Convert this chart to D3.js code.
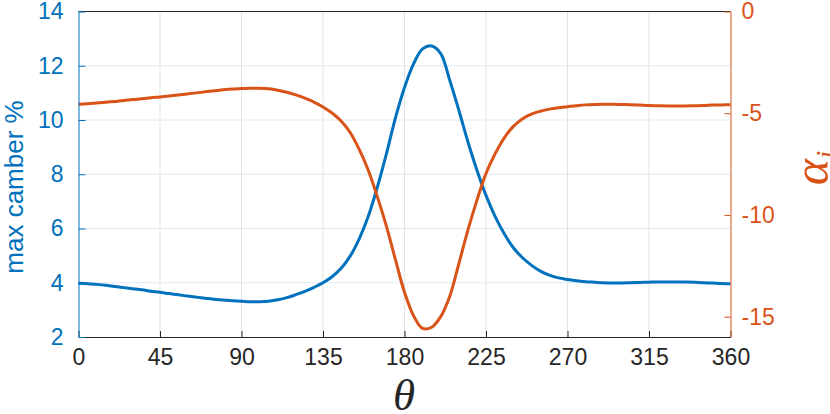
<!DOCTYPE html>
<html><head><meta charset="utf-8">
<script src="https://cdn.jsdelivr.net/npm/d3@7"></script>
<style>body{margin:0;background:#fff} svg{display:block}</style>
</head><body>
<script>
const theta = [0,5,10,15,20,25,30,35,40,45,50,55,60,65,70,75,80,85,90,95,100,105,110,115,120,125,130,135,140,145,150,155,160,165,170,175,180,185,190,195,200,205,210,215,220,225,230,235,240,245,250,255,260,265,270,275,280,285,290,295,300,305,310,315,320,325,330,335,340,345,350,355,360];
const camber = [3.98,3.96,3.94,3.91,3.86,3.82,3.78,3.74,3.69,3.65,3.60,3.56,3.51,3.47,3.43,3.39,3.36,3.34,3.32,3.30,3.30,3.32,3.37,3.45,3.56,3.68,3.83,4.00,4.22,4.53,4.98,5.62,6.45,7.52,8.75,10.08,11.20,12.07,12.62,12.73,12.45,11.46,10.36,9.20,8.15,7.22,6.45,5.82,5.30,4.93,4.65,4.43,4.28,4.18,4.12,4.07,4.04,4.02,4.00,3.99,3.99,4.00,4.01,4.02,4.03,4.03,4.03,4.03,4.02,4.00,3.99,3.97,3.96];
const alphaI = [-4.56,-4.53,-4.50,-4.46,-4.42,-4.38,-4.33,-4.29,-4.24,-4.20,-4.15,-4.10,-4.05,-4.00,-3.95,-3.90,-3.85,-3.81,-3.79,-3.77,-3.77,-3.80,-3.87,-3.97,-4.10,-4.26,-4.45,-4.69,-4.99,-5.38,-5.95,-6.78,-7.80,-9.10,-10.55,-12.20,-13.80,-14.95,-15.58,-15.52,-15.00,-14.00,-12.40,-10.75,-9.27,-7.96,-7.00,-6.22,-5.66,-5.28,-5.04,-4.90,-4.80,-4.73,-4.68,-4.63,-4.59,-4.57,-4.56,-4.56,-4.57,-4.58,-4.60,-4.62,-4.63,-4.64,-4.64,-4.64,-4.63,-4.62,-4.60,-4.59,-4.58];
const xTicks = [0,45,90,135,180,225,270,315,360];
const yLeftTicks = [2,4,6,8,10,12,14];
const yRightTicks = [0,-5,-10,-15];

const W = 830, H = 414;
const L = 78.5, R = 730.5, T = 11.5, B = 337;
const blue = "#0072BD", orange = "#D95319", dark = "#262626";
const svg = d3.select("body").append("svg").attr("width", W).attr("height", H);

const x = d3.scaleLinear().domain([0,360]).range([L,R]);
const yL = d3.scaleLinear().domain([2,14]).range([B,T]);
const yR = d3.scaleLinear().domain([-16,0]).range([B,T]);

// grid
svg.append("g").selectAll("line").data(xTicks.slice(1,-1)).join("line")
  .attr("x1", d=>x(d)).attr("x2", d=>x(d)).attr("y1", T).attr("y2", B)
  .attr("stroke", "#e3e3e3").attr("stroke-width", 1);
svg.append("g").selectAll("line").data(yLeftTicks.slice(1,-1)).join("line")
  .attr("x1", L).attr("x2", R).attr("y1", d=>yL(d)).attr("y2", d=>yL(d))
  .attr("stroke", "#dcebf6").attr("stroke-width", 1);

// lines
const lineL = d3.line().x((d,i)=>x(theta[i])).y(d=>yL(d)).curve(d3.curveCatmullRom);
const lineR = d3.line().x((d,i)=>x(theta[i])).y(d=>yR(d)).curve(d3.curveCatmullRom);
svg.append("path").attr("d", lineL(camber)).attr("fill","none").attr("stroke",blue).attr("stroke-width",3).attr("stroke-linejoin","round");
svg.append("path").attr("d", lineR(alphaI)).attr("fill","none").attr("stroke",orange).attr("stroke-width",3).attr("stroke-linejoin","round");

const fontTick = "'Liberation Sans', Arial, sans-serif";
const fmt = d => String(d);
// bottom axis
const gx = svg.append("g").attr("transform", `translate(0,${B})`)
  .call(d3.axisBottom(x).tickValues(xTicks).tickFormat(fmt).tickSizeInner(-6).tickSizeOuter(0).tickPadding(12));
gx.select(".domain").attr("stroke", dark);
gx.selectAll(".tick line").attr("stroke", dark);
gx.selectAll("text").attr("fill", dark).attr("font-size", 23).attr("font-family", fontTick);
// top line
svg.append("line").attr("x1",L).attr("x2",R).attr("y1",T).attr("y2",T).attr("stroke",dark);

// left axis
const gl = svg.append("g").attr("transform", `translate(${L},0)`)
  .call(d3.axisLeft(yL).tickValues(yLeftTicks).tickFormat(fmt).tickSizeInner(-7).tickSizeOuter(0).tickPadding(15));
gl.select(".domain").attr("stroke", blue);
gl.selectAll(".tick line").attr("stroke", blue);
gl.selectAll("text").attr("fill", blue).attr("font-size", 23).attr("font-family", fontTick);

// right axis
const gr = svg.append("g").attr("transform", `translate(${R},0)`)
  .call(d3.axisRight(yR).tickValues(yRightTicks).tickFormat(fmt).tickSizeInner(-6).tickSizeOuter(0).tickPadding(11));
gr.select(".domain").attr("stroke", orange);
gr.selectAll(".tick line").attr("stroke", orange);
gr.selectAll("text").attr("fill", orange).attr("font-size", 23).attr("font-family", fontTick);

// labels
svg.append("text").attr("transform","translate(23,187) rotate(-90)").attr("text-anchor","middle")
  .attr("fill", blue).attr("font-size", 26).attr("font-family", fontTick).text("max camber %");
svg.append("text").attr("x", 404).attr("y", 410).attr("text-anchor","middle")
  .attr("fill", dark).attr("font-size", 45).attr("font-style","italic").attr("font-family","'Liberation Serif', 'DejaVu Serif', serif").text("θ");
const ai = svg.append("text").attr("transform","translate(828,168) rotate(-90)").attr("text-anchor","middle")
  .attr("fill", orange).attr("font-size", 50).attr("font-style","italic").attr("font-family","'Liberation Serif', 'DejaVu Serif', serif");
ai.append("tspan").text("α");
ai.append("tspan").attr("font-size", 30).attr("dy", 8).text("i");
</script>
</body></html>
